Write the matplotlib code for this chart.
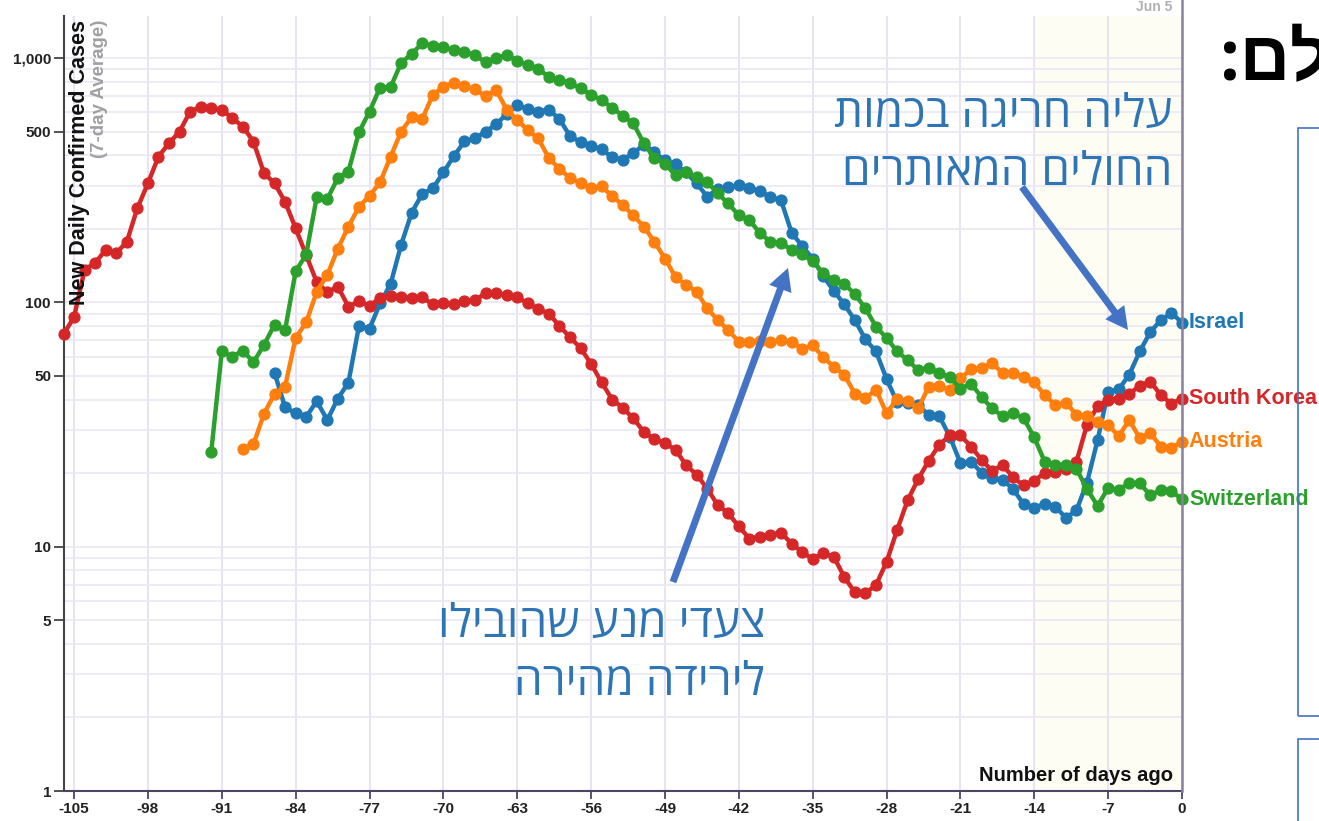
import matplotlib
matplotlib.use("Agg")
import matplotlib.pyplot as plt
from matplotlib.patches import Rectangle, FancyArrowPatch
from matplotlib.lines import Line2D
from matplotlib.ticker import FixedLocator, NullFormatter

plt.rcParams['font.family'] = ['Liberation Sans', 'DejaVu Sans']

W, H = 1319, 821

# data: 7-day average of new daily confirmed cases, by "days ago"
israel_start = -86
israel = [51.5, 37.2, 35.2, 34.0, 39.4, 33, 40.4, 46.9, 80, 78,
          99, 119, 172, 233, 278, 293, 340, 397, 456, 469,
          500, 535, 590, 643, 617, 604, 615, 562, 480, 452,
          435, 423, 392, 384, 408, 442, 411, 381, 367, 340,
          307, 271, 291, 296, 302, 295, 285, 270, 262, 193,
          170, 151, 128, 111.5, 98, 84.6, 70.5, 63, 48.6, 39,
          38.9, 38, 34.6, 34.2, 28.2, 22, 22.3, 20.1, 19.1, 18.8,
          17.2, 14.9, 14.4, 15, 14.6, 13.1, 14.1, 18.3, 27.3, 43.1,
          44, 50.6, 63, 75.6, 84.6, 90.5, 82.6]

korea_start = -106
south_korea = [74, 87, 136, 145, 164, 159, 177, 243, 307, 395,
               448, 500, 604, 632, 623, 615, 567, 524, 455, 338,
               307, 258, 201, 156, 121, 110, 116, 96, 101, 97,
               104, 106, 105, 104, 105, 98, 99, 98, 101, 102,
               109, 109, 107, 105, 99, 94, 90, 80, 72, 65,
               56, 47, 40, 37, 33.5, 29.5, 27.5, 26.6, 24.9, 21.6,
               19.7, 17.3, 14.8, 13.7, 12.1, 10.8, 11.0, 11.2, 11.4, 10.3,
               9.5, 8.9, 9.4, 9.1, 7.5, 6.5, 6.45, 6.97, 8.65, 11.7,
               15.5, 18.9, 22.5, 26.1, 28.6, 28.6, 25.7, 22.7, 20.4, 21.6,
               19.2, 17.8, 18.6, 20.1, 20.2, 20.8, 22.3, 31.6, 37.6, 40,
               40.4, 42.3, 45.5, 47.4, 41.7, 38.5, 40.4]

austria_start = -89
austria = [25.2, 26.2, 35, 42.2, 45.2, 71.6, 82.8, 110.6, 129.5, 166,
           204, 246, 273, 310, 395, 500, 574, 564, 706, 763,
           793, 768, 744, 698, 740, 615, 558, 507, 469, 388,
           353, 322, 307, 293, 298, 272, 250, 227, 204, 177,
           151, 127, 118, 110.6, 94.5, 84.6, 77, 69, 69, 69.7,
           69, 70, 69, 64.6, 66.7, 59.6, 54.5, 50.6, 42.2, 40.6,
           43.8, 35.2, 40.2, 39.4, 36.8, 45.2, 45.5, 43.8, 48.8, 53.3,
           53.8, 56.2, 51.5, 51.2, 49.6, 47, 41.7, 38, 38.9, 34.6,
           34.2, 32.5, 31.6, 28.3, 33, 27.8, 29.1, 25.7, 25.3, 26.9]

swiss_start = -92
switzerland = [24.4, 63, 60, 63.5, 56.8, 67, 81, 77, 134, 157,
               270, 265, 323, 343, 497, 604, 756, 760, 956, 1040,
               1150, 1120, 1105, 1080, 1060, 1030, 960, 1000, 1030, 975,
               935, 905, 835, 815, 790, 752, 706, 673, 626, 580,
               540, 448, 388, 370, 331, 343, 326, 311, 279, 254,
               227, 217, 192, 177, 175, 164, 158, 147, 132, 123,
               119, 108, 94.5, 79.5, 71.5, 63, 58, 52.8, 54.1, 51.5,
               49.3, 44.4, 46.5, 41, 36.8, 34.2, 35.3, 33.5, 28, 22.2,
               21.6, 21.6, 20.8, 17.2, 14.7, 17.4, 17.1, 18.2, 18.2, 16.2,
               17.1, 16.9, 15.6]

series = [
    ("Israel", israel_start, israel, "#1f77b4"),
    ("South Korea", korea_start, south_korea, "#d62728"),
    ("Austria", austria_start, austria, "#ff7f0e"),
    ("Switzerland", swiss_start, switzerland, "#2ca02c"),
]

y_ticks = [1, 5, 10, 50, 100, 500, 1000]
y_tick_labels = ["1", "5", "10", "50", "100", "500", "1,000"]
x_ticks = list(range(-105, 1, 7))


def px(x, y):
    # image pixel (top-left origin) -> figure fraction
    return x / W, 1 - y / H


def rtl(s):
    # matplotlib has no bidi support, so flip Hebrew lines by hand
    return s[::-1]


fig = plt.figure(figsize=(W / 100, H / 100), dpi=100)
fig.patch.set_facecolor("white")
ax = fig.add_axes([63.5 / W, 1 - 791 / H, (1182 - 63.5) / W, (791 - 16) / H])

ax.axvspan(-14, 0, color="#fdfdf3", zorder=0, lw=0)

for name, start, vals, col in series:
    days = list(range(start, start + len(vals)))
    ax.plot(days, vals, color=col, lw=3.2, marker="o", ms=7.8,
            clip_on=False, zorder=3)
    ax.annotate(name, (0, vals[-1]), xytext=(5, 0), textcoords="offset points",
                ha="left", va="center", fontsize=15.5, fontweight="bold",
                color=col, annotation_clip=False)

ax.set_yscale("log")
ax.set_xlim(-106, 0)
ax.set_ylim(1, 1486)
ax.set_yticks(y_ticks)
ax.set_yticklabels(y_tick_labels)
minor = [m * 10 ** k for k in range(3) for m in (2, 3, 4, 6, 7, 8, 9)]
ax.yaxis.set_minor_locator(FixedLocator(minor))
ax.yaxis.set_minor_formatter(NullFormatter())
ax.set_xticks(x_ticks)
ax.set_xticklabels([str(t) for t in x_ticks])

ax.grid(axis="y", which="both", color="#ebe7f4", lw=1.2, zorder=1)
ax.grid(axis="x", which="major", color="#e4def0", lw=1.2, zorder=1)
ax.set_axisbelow(True)

for s in ("top", "right"):
    ax.spines[s].set_visible(False)
ax.spines["left"].set_color("#444444")
ax.spines["left"].set_linewidth(1.5)
ax.spines["bottom"].set_color("#4d4463")
ax.spines["bottom"].set_linewidth(1.5)
ax.tick_params(axis="y", which="major", length=7, width=1.3, color="#444444",
               labelsize=11, pad=2)
ax.tick_params(axis="y", which="minor", length=0)
ax.tick_params(axis="x", which="major", length=6, width=1.3, color="#4d4463",
               labelsize=11, pad=2)
for lab in ax.get_xticklabels() + ax.get_yticklabels():
    lab.set_fontweight("bold")
    lab.set_color("#222222")

# right edge line of the chart
fig.add_artist(Line2D([1182 / W, 1182 / W], [1 - 791 / H, 1], color="#8a80a0",
                      lw=1.8))

# axis titles inside the chart
fig.text(*px(80, 20), "New Daily Confirmed Cases", rotation=90, ha="center",
         va="top", fontsize=15.5, fontweight="bold", color="#111111")
fig.text(*px(100, 20), "(7-day Average)", rotation=90, ha="center", va="top",
         fontsize=13.5, fontweight="bold", color="#a0a0a0")
fig.text(*px(1173, 775), "Number of days ago", ha="right", va="center",
         fontsize=14.5, fontweight="bold", color="#111111")
fig.text(*px(1172, 7), "Jun 5", ha="right", va="center", fontsize=10,
         fontweight="bold", color="#b0b0b0")

# Hebrew annotations
heb = ["Open Sans", "Liberation Sans", "DejaVu Sans"]
blue_txt = "#2E75B6"
fig.text(*px(1172, 127), rtl("עליה חריגה בכמות"), ha="right", va="baseline",
         fontsize=33, color=blue_txt, family=heb)
fig.text(*px(1172, 185), rtl("החולים המאותרים"), ha="right", va="baseline",
         fontsize=33, color=blue_txt, family=heb)
fig.text(*px(765, 637), rtl("צעדי מנע שהובילו"), ha="right", va="baseline",
         fontsize=33, color=blue_txt, family=heb)
fig.text(*px(765, 695), rtl("לירידה מהירה"), ha="right", va="baseline",
         fontsize=33, color=blue_txt, family=heb)

arrow_style = "simple,head_width=0.85,head_length=0.8,tail_width=0.25"
fig.add_artist(FancyArrowPatch(px(1022, 187), px(1128, 330),
                               transform=fig.transFigure, arrowstyle=arrow_style,
                               mutation_scale=20, color="#4472C4", lw=0,
                               shrinkA=0, shrinkB=0))
fig.add_artist(FancyArrowPatch(px(673, 582), px(788, 268),
                               transform=fig.transFigure, arrowstyle=arrow_style,
                               mutation_scale=20, color="#4472C4", lw=0,
                               shrinkA=0, shrinkB=0))

# pieces of the slide on the right (the title runs off the edge, as in the slide)
fig.text(*px(1220, 80), rtl("העולם:"), ha="left", va="baseline", fontsize=50,
         fontweight="bold", color="black", family=heb)
fig.add_artist(Rectangle(px(1298, 716), 200 / W, (716 - 128) / H,
                         transform=fig.transFigure, fill=False,
                         edgecolor="#4472C4", lw=1.2))
fig.add_artist(Rectangle(px(1298, 900), 200 / W, (900 - 739) / H,
                         transform=fig.transFigure, fill=False,
                         edgecolor="#4472C4", lw=1.2))

fig.savefig("out.png", dpi=100)
